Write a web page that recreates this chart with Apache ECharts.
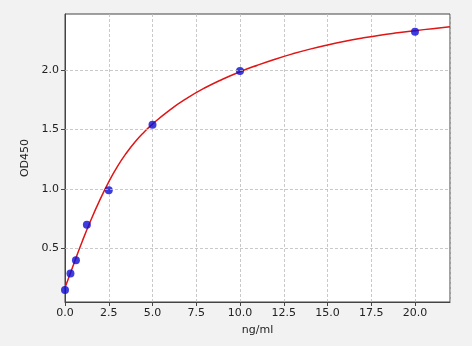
<!DOCTYPE html>
<html><head><meta charset="utf-8">
<script src="https://cdn.jsdelivr.net/npm/echarts@6/dist/echarts.min.js"></script>
<style>html,body{margin:0;padding:0;background:#f2f2f2;}#c{width:472px;height:346px;}</style>
</head><body><div id="c"></div>
<script>
// Measured standards
const stdConc = [0, 0.3125, 0.625, 1.25, 2.5, 5, 10, 20];
const stdOD = [0.15, 0.29, 0.40, 0.70, 0.99, 1.54, 1.99, 2.32];
// Fitted curve
const curveX = [0, 0.5, 1, 1.5, 2, 2.5, 3, 3.5, 4, 4.5, 5, 6, 7, 8, 9, 10, 11, 12, 13, 14, 15, 16, 17, 18, 19, 20, 21, 22];
const curveY = [0.17, 0.37, 0.565, 0.745, 0.91, 1.06, 1.19, 1.30, 1.395, 1.475, 1.545, 1.665, 1.765, 1.85, 1.922, 1.985, 2.04, 2.09, 2.135, 2.175, 2.21, 2.241, 2.268, 2.292, 2.312, 2.33, 2.347, 2.363];
const yTicks = [0.5, 1.0, 1.5, 2.0];
const xLabel = 'ng/ml';
const yLabel = 'OD450';

const chart = echarts.init(document.getElementById('c'));
const font = 'DejaVu Sans';
chart.setOption({
  backgroundColor: '#f2f2f2',
  animation: false,
  grid: {left: 65, right: 22, top: 14, bottom: 44, show: true, backgroundColor: '#ffffff', borderColor: '#444', borderWidth: 1},
  xAxis: {
    type: 'value', min: 0, max: 22, interval: 2.5,
    name: xLabel, nameLocation: 'middle', nameGap: 23,
    nameTextStyle: {fontFamily: font, fontSize: 11, color: '#222'},
    axisLine: {show: true, onZero: false, lineStyle: {color: '#444'}},
    axisTick: {show: true, length: 4, lineStyle: {color: '#444'}},
    axisLabel: {fontFamily: font, fontSize: 11, color: '#222', margin: 6, showMaxLabel: false, formatter: v => v.toFixed(1)},
    splitLine: {show: true, lineStyle: {color: '#bbb', type: [3, 2], width: 0.8}}
  },
  yAxis: {
    type: 'value', min: 0.05, max: 2.47,
    name: yLabel, nameLocation: 'middle', nameGap: 29, nameRotate: 90,
    nameTextStyle: {fontFamily: font, fontSize: 11, color: '#222'},
    axisLine: {show: true, onZero: false, lineStyle: {color: '#444'}},
    axisTick: {show: true, length: 4, lineStyle: {color: '#444'}, customValues: yTicks},
    axisLabel: {fontFamily: font, fontSize: 11, color: '#222', margin: 6, customValues: yTicks, formatter: v => v.toFixed(1)},
    splitLine: {show: false}
  },
  series: [
    {
      type: 'line', data: curveX.map((x, i) => [x, curveY[i]]), smooth: true, showSymbol: false,
      lineStyle: {color: '#e01515', width: 1.5}, z: 2,
      markLine: {
        silent: true, symbol: 'none', label: {show: false},
        lineStyle: {color: '#bbb', type: [3, 2], width: 0.8},
        data: yTicks.map(v => ({yAxis: v}))
      }
    },
    {
      type: 'scatter', data: stdConc.map((x, i) => [x, stdOD[i]]), symbolSize: 8,
      itemStyle: {color: '#0c0cd6'}, z: 3
    }
  ]
});
</script></body></html>
